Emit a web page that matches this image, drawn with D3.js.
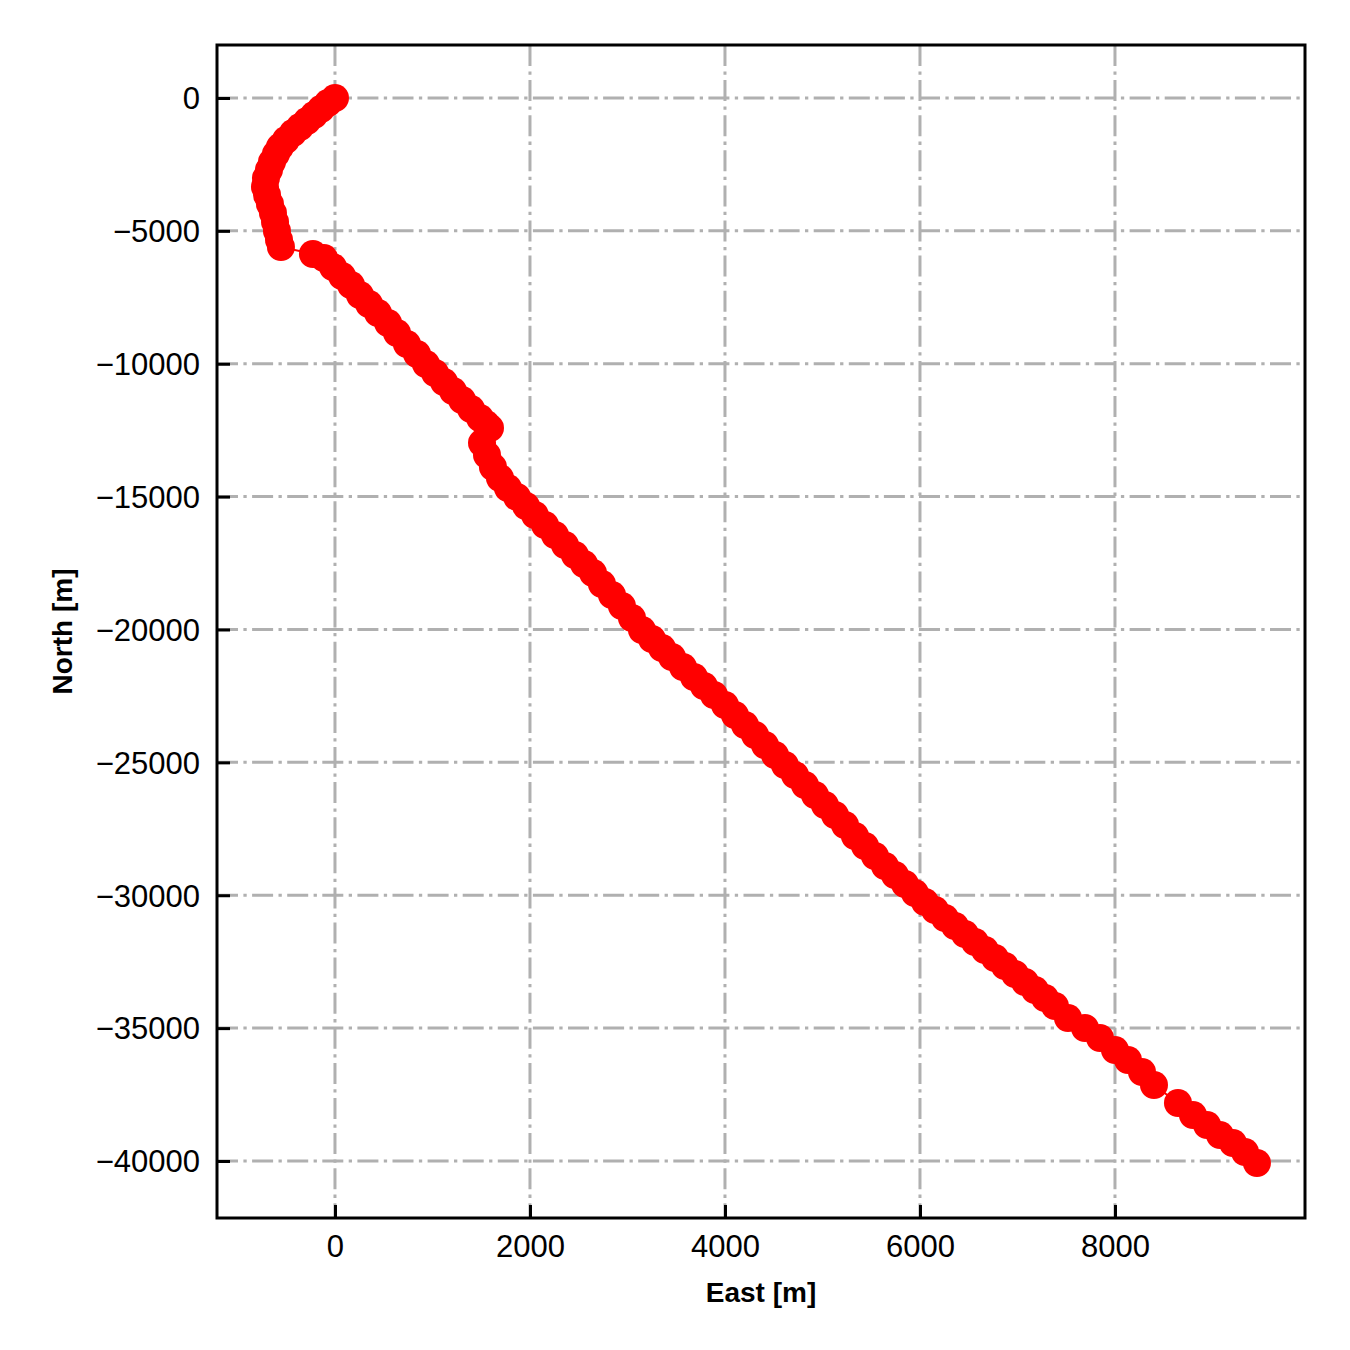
<!DOCTYPE html>
<html>
<head>
<meta charset="utf-8">
<script src="https://cdn.jsdelivr.net/npm/d3@7"></script>
<style>
  body { margin: 0; background: #fff; }
  .tick text { font-family: "Liberation Sans", Arial, sans-serif; font-size: 31px; fill: #000; }
  .axis--label { font-family: "Liberation Sans", Arial, sans-serif; font-size: 28px; font-weight: bold; fill: #000; }
  .grid line { stroke: #b0b0b0; stroke-width: 3px; stroke-dasharray: 21 5.4 3.3 5.4; }
</style>
</head>
<body>
<div class="graph"></div>
<script>
// track positions, metres
var east = [
  0, -72, -144, -215, -287, -359, -431, -503, -564, -605, -646, -677, -708, -718, -697, -667, -636, -615, -595, -574, -554,
  -226, -113, -21, 72, 164, 256, 349, 441, 544, 636, 738, 841, 933, 1026, 1118, 1210, 1303, 1395, 1487, 1549, 1590,
  1508, 1559, 1620, 1692, 1774, 1867, 1959, 2051, 2154, 2256, 2359, 2461, 2554, 2646, 2738, 2841, 2943, 3046, 3149,
  3251, 3354, 3456, 3569, 3682, 3784, 3887, 4000, 4102, 4205, 4308, 4410, 4513, 4615, 4718, 4820, 4923, 5025, 5128,
  5231, 5333, 5436, 5538, 5641, 5743, 5846, 5948, 6051, 6154, 6256, 6359, 6461, 6564, 6666, 6769, 6871, 6974, 7077,
  7179, 7282, 7384, 7518, 7692, 7846, 8000, 8133, 8277, 8400,
  8646, 8800, 8944, 9077, 9210, 9333, 9456
];
var north = [
  0, -188, -414, -640, -865, -1091, -1317, -1580, -1844, -2107, -2408, -2709, -3010, -3349, -3650, -3989, -4327, -4666, -5005, -5343, -5607,
  -5870, -6021, -6359, -6698, -7037, -7413, -7752, -8090, -8467, -8843, -9257, -9633, -10010, -10348, -10687, -11026, -11364, -11703, -12042, -12267, -12418,
  -12982, -13434, -13885, -14299, -14676, -15014, -15353, -15692, -16068, -16444, -16821, -17197, -17536, -17874, -18288, -18702, -19116, -19568, -20019,
  -20358, -20697, -21035, -21411, -21788, -22126, -22465, -22841, -23218, -23594, -23970, -24347, -24723, -25099, -25476, -25852, -26228, -26604, -26981,
  -27357, -27771, -28147, -28524, -28900, -29239, -29577, -29916, -30255, -30556, -30857, -31158, -31459, -31760, -32061, -32362, -32663, -32964, -33265,
  -33566, -33867, -34168, -34620, -34996, -35372, -35824, -36200, -36652, -37141,
  -37818, -38270, -38646, -39022, -39323, -39662, -40076
];
var xTicks = [0, 2000, 4000, 6000, 8000],
    yTicks = [0, -5000, -10000, -15000, -20000, -25000, -30000, -35000, -40000];

var margin = { top: 45, left: 217, right: 45, bottom: 132 },
    options = { width: 1350, height: 1350 },
    w = options.width - margin.left - margin.right,
    h = options.height - margin.top - margin.bottom;

var points = east.map(function(e, i) { return { e: e, n: north[i] }; });

var xScale = d3.scaleLinear().domain([-1210, 9949]).range([0, w]),
    yScale = d3.scaleLinear().domain([-42145, 1994]).range([h, 0]);

function fmt(d) { return d < 0 ? "\u2212" + Math.abs(d) : "" + d; }

var svg = d3.select(".graph").append("svg")
    .attr("width", options.width)
    .attr("height", options.height);

var g = svg.append("g")
    .attr("transform", "translate(" + margin.left + "," + margin.top + ")");

// grid
var grid = g.append("g").attr("class", "grid");
grid.selectAll(".gx").data(xTicks).enter().append("line")
    .attr("x1", function(d) { return xScale(d); })
    .attr("x2", function(d) { return xScale(d); })
    .attr("y1", 0).attr("y2", h);
grid.selectAll(".gy").data(yTicks).enter().append("line")
    .attr("y1", function(d) { return yScale(d); })
    .attr("y2", function(d) { return yScale(d); })
    .attr("x1", 0).attr("x2", w);

// track
var line = d3.line()
    .x(function(d) { return xScale(d.e); })
    .y(function(d) { return yScale(d.n); });

g.append("path")
    .datum(points)
    .attr("d", line)
    .attr("fill", "none")
    .attr("stroke", "#ff0000")
    .attr("stroke-width", 2);

g.selectAll(".pt").data(points).enter().append("circle")
    .attr("cx", function(d) { return xScale(d.e); })
    .attr("cy", function(d) { return yScale(d.n); })
    .attr("r", 14)
    .attr("fill", "#ff0000");

// axes, ticks pointing inward
var xAxis = d3.axisBottom(xScale).tickValues(xTicks).tickFormat(fmt).tickSizeInner(-13).tickSizeOuter(0),
    yAxis = d3.axisLeft(yScale).tickValues(yTicks).tickFormat(fmt).tickSizeInner(-13).tickSizeOuter(0);

var gx = g.append("g")
    .attr("class", "x axis")
    .attr("transform", "translate(0," + h + ")")
    .call(xAxis);
var gy = g.append("g")
    .attr("class", "y axis")
    .call(yAxis);

[gx, gy].forEach(function(a) {
  a.select(".domain").remove();
  a.selectAll(".tick line").attr("stroke", "#000").attr("stroke-width", 3);
});
gx.selectAll(".tick text").attr("dy", "0.71em").attr("y", 17);
gy.selectAll(".tick text").attr("dy", "0.35em").attr("x", -17);

g.append("rect")
    .attr("width", w)
    .attr("height", h)
    .attr("fill", "none")
    .attr("stroke", "#000")
    .attr("stroke-width", 3);

svg.append("text")
    .attr("class", "axis--label")
    .attr("x", margin.left + w / 2)
    .attr("y", 1302)
    .attr("text-anchor", "middle")
    .text("East [m]");

svg.append("text")
    .attr("class", "axis--label")
    .attr("transform", "translate(72," + (margin.top + h / 2) + ") rotate(-90)")
    .attr("text-anchor", "middle")
    .text("North [m]");
</script>
</body>
</html>
